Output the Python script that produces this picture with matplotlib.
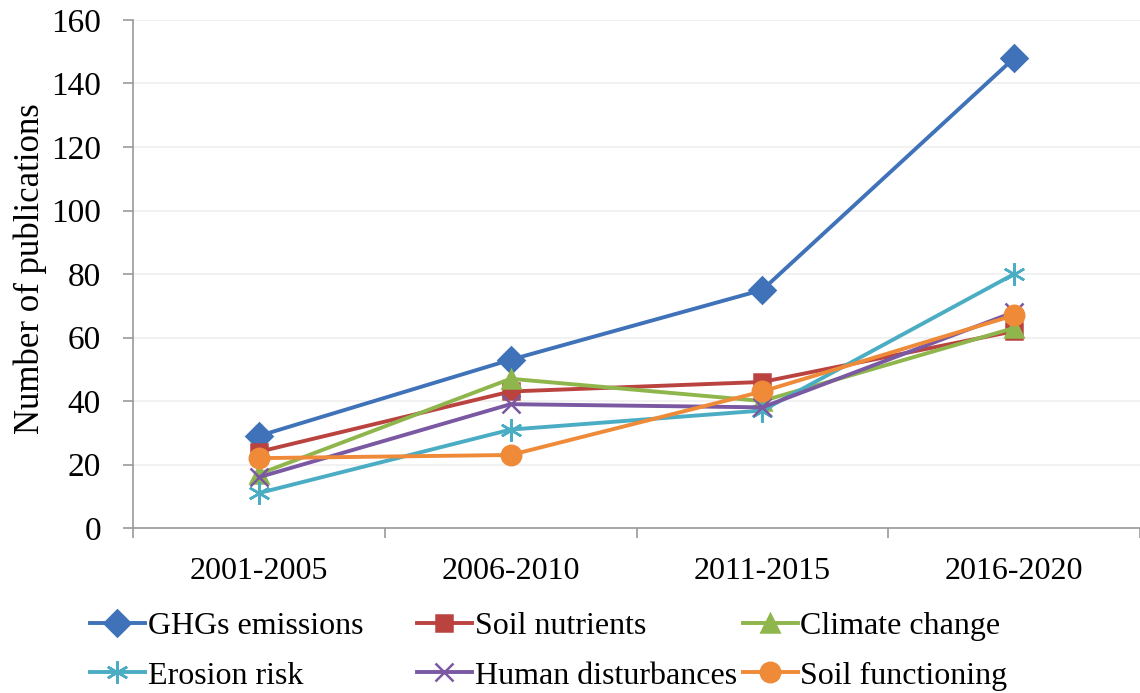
import matplotlib
matplotlib.use("Agg")
import matplotlib.pyplot as plt
import numpy as np

periods = ["2001-2005", "2006-2010", "2011-2015", "2016-2020"]
ghg = [29, 53, 75, 148]
nutrients = [24, 43, 46, 62]
climate = [17, 47, 40, 63]
erosion = [11, 31, 37, 80]
human = [16, 39, 38, 68]
functioning = [22, 23, 43, 67]
yticks = [0, 20, 40, 60, 80, 100, 120, 140, 160]

plt.rcParams['font.family'] = ['Liberation Serif', 'DejaVu Serif']

fig = plt.figure(figsize=(11.4, 6.93), dpi=100)
ax = fig.add_axes([133 / 1140, 1 - 528 / 693, 1 - 133 / 1140, 508 / 693])

x = np.arange(len(periods))
lw = 2.8
series = [
    ("GHGs emissions", ghg, "#3F72B8", "D", 13),
    ("Soil nutrients", nutrients, "#BA4340", "s", 12),
    ("Climate change", climate, "#8FB64C", "^", 13),
    ("Erosion risk", erosion, "#4AADC4", (6, 2, 0), 16),
    ("Human disturbances", human, "#7A58A2", "x", 13),
    ("Soil functioning", functioning, "#EE8A38", "o", 14),
]
handles = {}
for name, vals, col, mk, ms in series:
    h, = ax.plot(x, vals, color=col, lw=lw, marker=mk, markersize=ms,
                 markeredgecolor=col, markeredgewidth=1.8, label=name)
    handles[name] = h

ax.set_xlim(-0.5, 3.5)
ax.set_ylim(0, 160)
ax.set_yticks(yticks)
ax.set_xticks(x)
ax.set_xticklabels(periods)
ax.set_xticks(np.arange(-0.5, 3.6, 1.0), minor=True)
ax.tick_params(axis='x', which='major', length=0, pad=21, labelsize=23)
ax.tick_params(axis='x', which='minor', length=7, direction='out', color='#999999', width=1.2)
ax.tick_params(axis='y', length=7, direction='out', color='#999999', width=1.2,
               labelsize=24, pad=16)
ax.yaxis.grid(True, color='#EFEFEF', lw=1.2)
ax.set_axisbelow(True)
for s in ['top', 'right']:
    ax.spines[s].set_visible(False)
for s in ['left', 'bottom']:
    ax.spines[s].set_color('#999999')
    ax.spines[s].set_linewidth(1.2)

fig.text(30 / 1140, 1 - 269 / 693, "Number of publications", rotation=90,
         ha='center', va='center', fontsize=25)

columns = [
    (["GHGs emissions", "Erosion risk"], 90),
    (["Soil nutrients", "Human disturbances"], 417),
    (["Climate change", "Soil functioning"], 743),
]
for names, xpx in columns:
    fig.legend([handles[n] for n in names], names, loc='upper left',
               bbox_to_anchor=(xpx / 1140, 1 - 612 / 693), ncol=1, frameon=False,
               fontsize=23, handlelength=1.72, handletextpad=0.08,
               labelspacing=0.62, borderpad=0, borderaxespad=0)

fig.savefig("out.png", dpi=100)
